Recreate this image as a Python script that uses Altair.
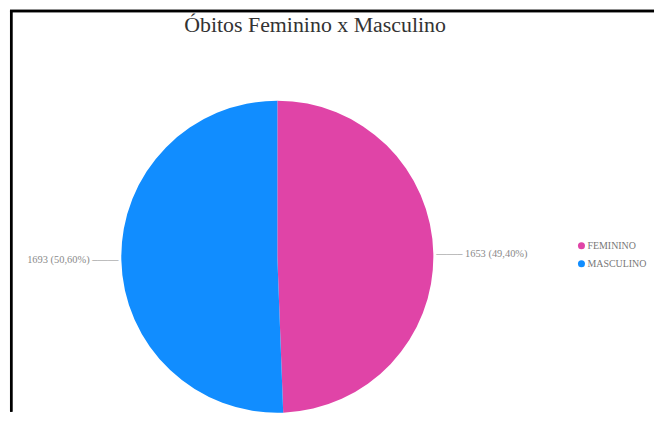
import altair as alt
import pandas as pd

categories = ["FEMININO", "MASCULINO"]
values = [1653, 1693]
colors = ["#E044A7", "#118DFF"]
title_text = "Óbitos Feminino x Masculino"

total = sum(values)
labels = [f"{v} ({v / total * 100:.2f}%)".replace(".", ",") for v in values]
df = pd.DataFrame({
    "sexo": categories,
    "obitos": values,
    "ordem": list(range(len(categories))),
    "rotulo_dir": ["——– " + lab for lab in labels],
    "rotulo_esq": [lab + " –——" for lab in labels],
})

FONT = "Liberation Serif"
T = 92.5  # distance from chart top to plot origin

theta_scale = alt.Scale(domain=[0, total])

pie = alt.Chart(df).mark_arc(outerRadius=157).encode(
    theta=alt.Theta("obitos:Q", stack=True, scale=theta_scale),
    order=alt.Order("ordem:Q", sort="ascending"),
    color=alt.Color(
        "sexo:N",
        scale=alt.Scale(domain=categories, range=colors),
        sort=categories,
        legend=alt.Legend(
            title=None,
            orient="none",
            legendX=570,
            legendY=140,
            symbolType="circle",
            symbolSize=50,
            labelFont=FONT,
            labelFontSize=10,
            labelColor="#777777",
            symbolOffset=0,
            rowPadding=8,
            labelOffset=1,
        ),
    ),
)

lab_base = alt.Chart(df).transform_window(
    cum="sum(obitos)", sort=[alt.SortField("ordem", order="ascending")]
).transform_calculate(
    mid="datum.cum - datum.obitos / 2"
).encode(
    theta=alt.Theta("mid:Q", stack=False, scale=theta_scale),
)

right_lab = lab_base.mark_text(
    radius=160, align="left", baseline="middle", font=FONT, fontSize=10.5, color="#8a8a8a"
).encode(text="rotulo_dir:N").transform_filter(alt.datum.sexo == "FEMININO")

left_lab = lab_base.mark_text(
    radius=160, align="right", baseline="middle", font=FONT, fontSize=10.5, color="#8a8a8a"
).encode(text="rotulo_esq:N").transform_filter(alt.datum.sexo == "MASCULINO")

# frame lines of the original screenshot
frame_top = alt.Chart(df).mark_rule(color="#000000", strokeWidth=2.5).encode(
    x=alt.value(0), x2=alt.value(648), y=alt.value(-T + 1.25)
)
frame_left = alt.Chart(df).mark_rule(color="#000000", strokeWidth=2.5).encode(
    x=alt.value(1.25), y=alt.value(-T + 1.25), y2=alt.value(312)
)

chart = alt.layer(pie, right_lab, left_lab, frame_top, frame_left).properties(
    width=538,
    height=312,
    padding={"left": 0, "top": 0, "right": 0, "bottom": 0},
    title=alt.TitleParams(
        text=title_text,
        font=FONT,
        fontSize=22,
        fontWeight="normal",
        color="#333333",
        anchor="middle",
        dx=38,
        offset=-27,
    ),
).configure_view(stroke=None).configure_legend(labelFont=FONT)

chart.save("out.html", embed_options={"renderer": "svg", "actions": False})
